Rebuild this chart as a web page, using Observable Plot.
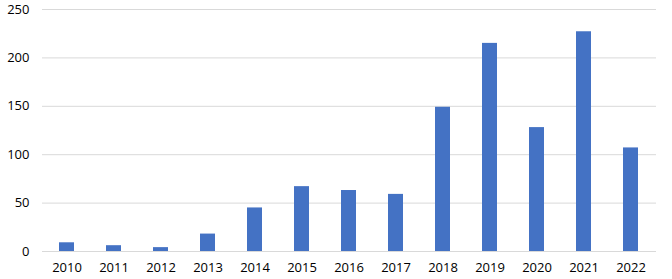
<!DOCTYPE html>
<html>
<head>
<meta charset="utf-8">
<script src="https://cdn.jsdelivr.net/npm/d3@7"></script>
<script src="https://cdn.jsdelivr.net/npm/@observablehq/plot@0.6"></script>
<style>
  html, body { margin: 0; padding: 0; background: #fff; }
  #chart svg { display: block; }
</style>
</head>
<body>
<div id="chart"></div>
<script>
const years = ["2010","2011","2012","2013","2014","2015","2016","2017","2018","2019","2020","2021","2022"];
const counts = [9, 6, 4, 18, 45, 67, 63, 59, 149, 215, 128, 227, 107];
const yTicks = [0, 50, 100, 150, 200, 250];

const data = years.map((y, i) => ({year: y, value: counts[i]}));

const chart = Plot.plot({
  width: 672,
  height: 279,
  marginLeft: 42,
  marginRight: 16,
  marginTop: 9,
  marginBottom: 28,
  style: {fontFamily: "'Open Sans', sans-serif", fontSize: "13px", color: "#000", background: "#fff"},
  x: {domain: years, paddingInner: 0.68, paddingOuter: 0.34, label: null, tickSize: 0, tickPadding: 11},
  y: {domain: [0, 250], ticks: yTicks, label: null, tickSize: 0, tickPadding: 13},
  marks: [
    Plot.ruleY(yTicks, {stroke: "#d9d9d9", strokeWidth: 1, strokeOpacity: 1}),
    Plot.barY(data, {x: "year", y: "value", fill: "#4472c4"})
  ]
});
document.getElementById("chart").appendChild(chart);
</script>
</body>
</html>
